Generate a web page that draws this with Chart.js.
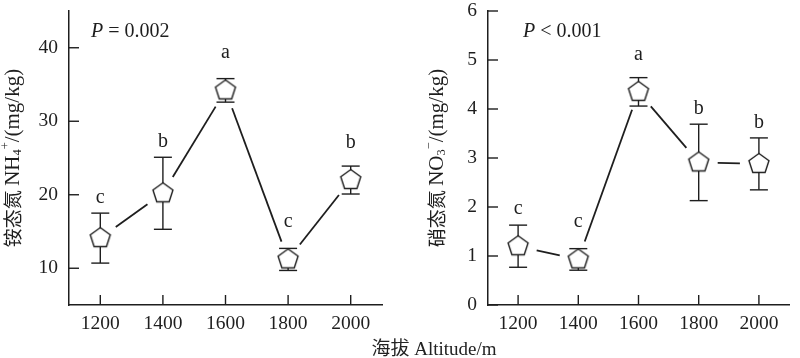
<!DOCTYPE html>
<html>
<head>
<meta charset="utf-8">
<script src="https://cdn.jsdelivr.net/npm/chart.js@4"></script>
<style>
  body { margin: 0; background: #fff; }
  #wrap { position: relative; width: 800px; height: 358px; overflow: hidden; }
  .panel { position: absolute; top: 0; width: 400px; height: 358px; }
  #xtitle {
    position: absolute; left: 434px; top: 333px; transform: translateX(-50%);
    font: 19px "Liberation Serif", "Noto Sans CJK SC", serif; color: #222; white-space: nowrap;
  }
</style>
</head>
<body>
<div id="wrap">
  <div class="panel" style="left:0"><canvas id="nh4-canvas" width="400" height="358"></canvas></div>
  <div class="panel" style="left:400px"><canvas id="no3-canvas" width="400" height="358"></canvas></div>
  <div id="xtitle">海拔 Altitude/m</div>
</div>
<script>
const altitudes = [1200, 1400, 1600, 1800, 2000];
const x_ticks = [1200, 1400, 1600, 1800, 2000];

const nh4_mean = [14.1, 20.2, 34.2, 11.2, 22.0];
const nh4_err = [3.4, 4.9, 1.6, 1.5, 1.9];
const nh4_letters = ["c", "b", "a", "c", "b"];
const nh4_ticks = [10, 20, 30, 40];

const no3_mean = [1.2, 0.93, 4.35, 2.91, 2.88];
const no3_err = [0.43, 0.22, 0.29, 0.78, 0.53];
const no3_letters = ["c", "c", "a", "b", "b"];
const no3_ticks = [0, 1, 2, 3, 4, 5, 6];

const INK = "#1e1e1e";
const SERIF = '"Liberation Serif", "Times New Roman", serif';
const CJK = '"Noto Sans CJK SC", sans-serif';

const pentagon = (() => {
  const c = document.createElement("canvas");
  c.width = 26;
  c.height = 26;
  const ctx = c.getContext("2d");
  const R = 10.5;
  ctx.beginPath();
  for (let i = 0; i < 5; i++) {
    const a = ((-90 + 72 * i) * Math.PI) / 180;
    const px = 13 + R * Math.cos(a);
    const py = 13 + R * Math.sin(a);
    i == 0 ? ctx.moveTo(px, py) : ctx.lineTo(px, py);
  }
  ctx.closePath();
  ctx.fillStyle = "#fff";
  ctx.fill();
  ctx.lineWidth = 1.4;
  ctx.strokeStyle = INK;
  ctx.stroke();
  return c;
})();

// draws text pieces one after another; sub/sup shift the baseline
const pieceFont = ({ font, scale = 1, style = "" }, size) =>
  `${style} ${size * scale}px ${font}`.trim();
const drawPieces = (ctx, pieces, size) => {
  let x = 0;
  pieces.forEach((p) => {
    ctx.font = pieceFont(p, size);
    ctx.fillText(p.t, x, p.dy || 0);
    x += ctx.measureText(p.t).width;
  });
  return x;
};
const measurePieces = (ctx, pieces, size) =>
  pieces.reduce((w, p) => {
    ctx.font = pieceFont(p, size);
    return w + ctx.measureText(p.t).width;
  }, 0);

const decor = {
  id: "decor",
  beforeDatasetsDraw(chart, args, opts) {
    const { ctx } = chart;
    const y = chart.scales.y;
    const pts = chart.getDatasetMeta(0).data;
    ctx.save();
    ctx.strokeStyle = INK;
    ctx.lineWidth = 1.8;
    // connecting segments with a gap round each marker
    for (let i = 0; i < pts.length - 1; i++) {
      const a = pts[i], b = pts[i + 1];
      const dx = b.x - a.x, dy = b.y - a.y;
      const len = Math.hypot(dx, dy);
      const ux = dx / len, uy = dy / len;
      const gap = 19;
      ctx.beginPath();
      ctx.moveTo(a.x + ux * gap, a.y + uy * gap);
      ctx.lineTo(b.x - ux * gap, b.y - uy * gap);
      ctx.stroke();
    }
    // error stems
    ctx.lineWidth = 1.4;
    pts.forEach((p, i) => {
      const m = opts.mean[i], e = opts.err[i];
      ctx.beginPath();
      ctx.moveTo(p.x, y.getPixelForValue(m + e));
      ctx.lineTo(p.x, y.getPixelForValue(m - e));
      ctx.stroke();
    });
    ctx.restore();
  },
  afterDatasetsDraw(chart, args, opts) {
    const { ctx, chartArea } = chart;
    const x = chart.scales.x;
    const y = chart.scales.y;
    const pts = chart.getDatasetMeta(0).data;
    ctx.save();
    ctx.strokeStyle = INK;
    ctx.fillStyle = INK;
    ctx.lineWidth = 1.4;
    pts.forEach((p, i) => {
      const m = opts.mean[i], e = opts.err[i];
      const top = y.getPixelForValue(m + e);
      const bot = y.getPixelForValue(m - e);
      [top, bot].forEach((yy) => {
        ctx.beginPath();
        ctx.moveTo(p.x - 9, yy);
        ctx.lineTo(p.x + 9, yy);
        ctx.stroke();
      });
      const off = Math.max(p.y - top + 15, 37);
      ctx.font = `20px ${SERIF}`;
      ctx.textAlign = "center";
      ctx.textBaseline = "alphabetic";
      ctx.fillText(opts.letters[i], p.x, p.y - off + 5);
    });
    // inward ticks
    ctx.lineWidth = 1.4;
    y.ticks.forEach(({ value }) => {
      const yy = y.getPixelForValue(value);
      ctx.beginPath();
      ctx.moveTo(chartArea.left, yy);
      ctx.lineTo(chartArea.left + 10, yy);
      ctx.stroke();
    });
    x.ticks.forEach(({ value }) => {
      const xx = x.getPixelForValue(value);
      ctx.beginPath();
      ctx.moveTo(xx, chartArea.bottom);
      ctx.lineTo(xx, chartArea.bottom - 10);
      ctx.stroke();
    });
    // P value
    ctx.textAlign = "left";
    ctx.save();
    ctx.translate(opts.pPos[0], opts.pPos[1]);
    drawPieces(ctx, [
      { t: "P", font: SERIF, style: "italic" },
      { t: opts.pText, font: SERIF },
    ], 20);
    ctx.restore();
    // y title
    ctx.save();
    const cy = (chartArea.top + chartArea.bottom) / 2;
    ctx.translate(opts.titleX, cy);
    ctx.rotate(-Math.PI / 2);
    ctx.textBaseline = "middle";
    const w = measurePieces(ctx, opts.title, 20);
    ctx.translate(-w / 2, 0);
    drawPieces(ctx, opts.title, 20);
    ctx.restore();
    ctx.restore();
  },
};

const makeChart = (canvas_id, mean, err, letters, y_ticks, y_min, y_max, cfg) => {
  return new Chart(document.getElementById(canvas_id), {
    type: "scatter",
    data: {
      datasets: [
        {
          data: altitudes.map((a, i) => ({ x: a, y: mean[i] })),
          pointStyle: pentagon,
          pointRadius: 10,
          showLine: false,
        },
      ],
    },
    plugins: [decor],
    options: {
      responsive: false,
      devicePixelRatio: 1,
      animation: false,
      layout: { padding: { left: 0, top: cfg.top, right: cfg.right, bottom: 0 } },
      plugins: {
        legend: { display: false },
        tooltip: { enabled: false },
        decor: { mean, err, letters, pText: cfg.pText, pPos: cfg.pPos, title: cfg.title, titleX: cfg.titleX },
      },
      scales: {
        x: {
          type: "linear",
          min: 1100,
          max: 2100,
          grid: { display: false, drawTicks: false },
          border: { display: true, color: INK, width: 1.5 },
          afterBuildTicks: (s) => { s.ticks = x_ticks.map((v) => ({ value: v })); },
          afterFit: (s) => { s.height = 53; s.paddingLeft = 0; s.paddingRight = 0; },
          ticks: { padding: 7, color: INK, font: { family: SERIF, size: 19.5 }, callback: (v) => String(v) },
        },
        y: {
          min: y_min,
          max: y_max,
          grid: { display: false, drawTicks: false },
          border: { display: true, color: INK, width: 1.5 },
          afterBuildTicks: (s) => { s.ticks = y_ticks.map((v) => ({ value: v })); },
          afterFit: (s) => { s.width = cfg.yWidth; s.paddingTop = 0; s.paddingBottom = 0; },
          ticks: { padding: 11, color: INK, font: { family: SERIF, size: 19.5 }, callback: (v) => String(v) },
        },
      },
    },
  });
};

makeChart("nh4-canvas", nh4_mean, nh4_err, nh4_letters, nh4_ticks, 5, 45, {
  top: 7,
  right: 18,
  yWidth: 69,
  pText: " = 0.002",
  pPos: [91, 37],
  titleX: 13,
  title: [
    { t: "铵态氮 ", font: CJK, scale: 0.95 },
    { t: "NH", font: SERIF, scale: 1.05 },
    { t: "4", font: SERIF, dy: 5, scale: 0.62 },
    { t: "+", font: SERIF, dy: -7, scale: 0.62 },
    { t: "/(mg/kg)", font: SERIF, scale: 1.05 },
  ],
});

makeChart("no3-canvas", no3_mean, no3_err, no3_letters, no3_ticks, 0, 6, {
  top: 6,
  right: 1,
  yWidth: 88,
  pText: " < 0.001",
  pPos: [123, 37],
  titleX: 37,
  title: [
    { t: "硝态氮 ", font: CJK, scale: 0.95 },
    { t: "NO", font: SERIF, scale: 1.05 },
    { t: "3", font: SERIF, dy: 5, scale: 0.62 },
    { t: "\u2212", font: SERIF, dy: -7, scale: 0.62 },
    { t: "/(mg/kg)", font: SERIF, scale: 1.05 },
  ],
});
</script>
</body>
</html>
